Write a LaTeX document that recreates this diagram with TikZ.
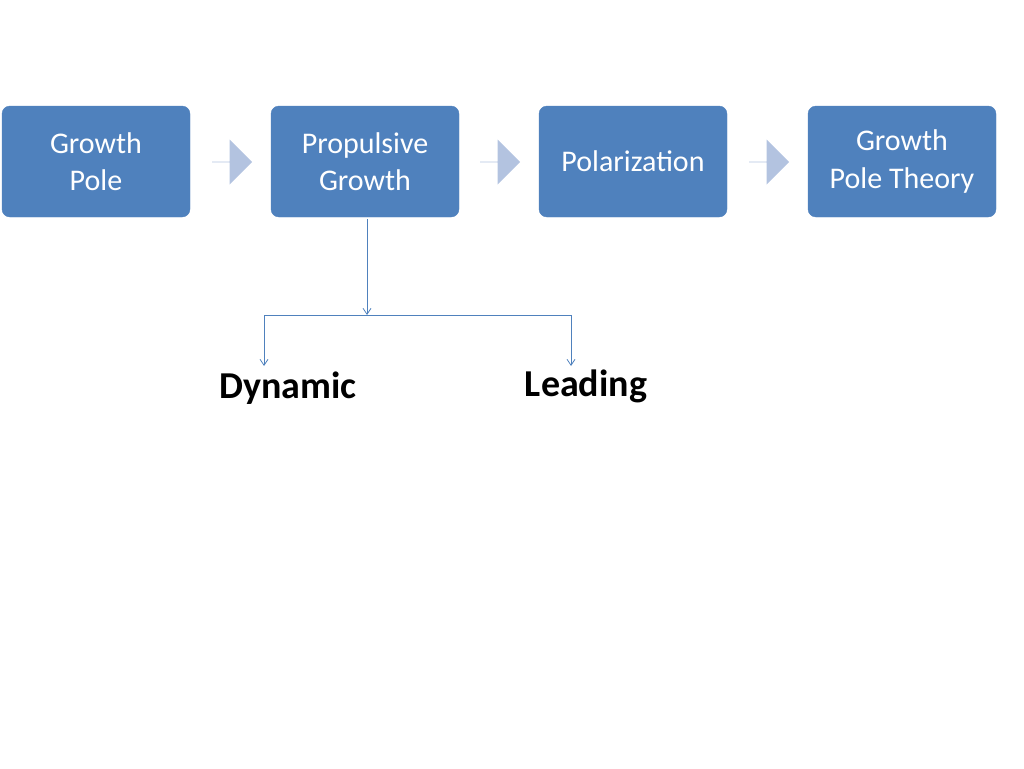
\documentclass[tikz,border=0pt]{standalone}
\usepackage{fontspec}
\setmainfont{Carlito}
\usetikzlibrary{shapes.arrows,arrows.meta}
\definecolor{boxblue}{HTML}{4F81BD}
\definecolor{arrblue}{HTML}{B3C3E0}
\begin{document}
\begin{tikzpicture}[x=1pt,y=-1pt,
  box/.style={draw=boxblue,fill=boxblue,rounded corners=8pt,minimum width=188pt,minimum height=111pt,text=white,font=\fontsize{30}{37}\selectfont,align=center,inner sep=0pt},
  barr/.style={single arrow,fill=arrblue,draw=none,minimum width=45pt,single arrow head extend=10pt,minimum height=40pt,inner sep=0pt,single arrow tip angle=90},
  conn/.style={draw=boxblue,line width=0.8pt,-{Straight Barb[length=6pt,width=8pt]}},
  lbl/.style={font=\fontsize{38}{44}\selectfont\bfseries}]
\useasboundingbox (0,0) rectangle (1024,768);
\node[box] (a) at (96,161.5) {Growth\\Pole};
\node[box] (b) at (365,161.5) {Propulsive\\Growth};
\node[box] (c) at (633,161.5) {Polarization};
\node[box] (d) at (902,161.5) {Growth\\Pole Theory};
\node[barr] (ab) at (232,162) {};
\node[barr] (bc) at (500,162) {};
\node[barr] (cd) at (769,162) {};
\coordinate (j) at (367,315);
\coordinate (jl) at (264,315);
\coordinate (jr) at (571,315);
\node[lbl] (dy) at (288,388) {Dynamic};
\node[lbl] (le) at (586,386) {Leading};
\draw[conn] (367,219) -- (j);
\draw[draw=boxblue,line width=0.8pt] (jl) -- (jr);
\draw[conn] (jl) -- (264,366);
\draw[conn] (jr) -- (571,366);
\end{tikzpicture}
\end{document}
